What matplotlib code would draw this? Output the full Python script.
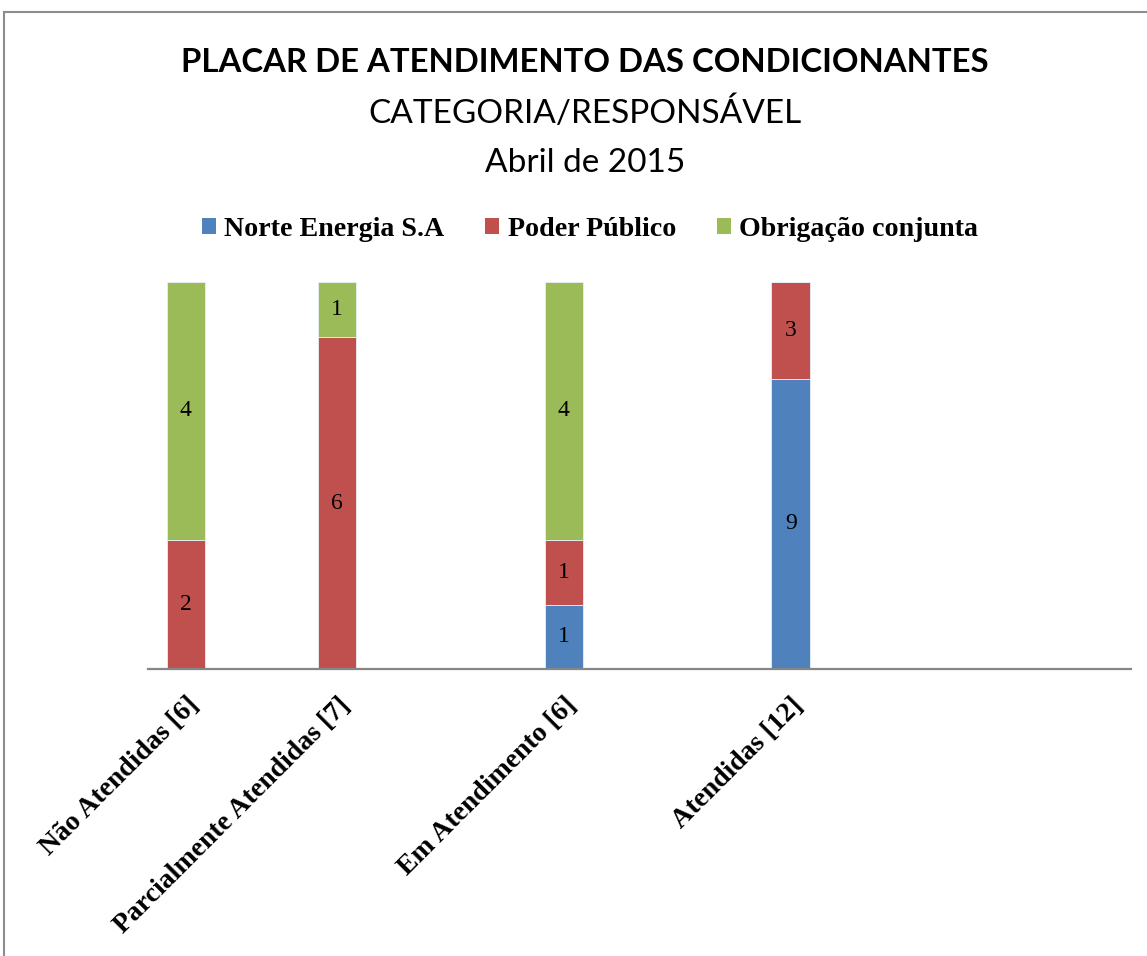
import numpy as np
import matplotlib
matplotlib.use('Agg')
import matplotlib.pyplot as plt
import matplotlib.patches as patches

# categories (blank slots are empty rows of the source sheet)
categories = ['Não Atendidas [6]', '', 'Parcialmente Atendidas [7]', '', '',
              'Em Atendimento [6]', '', '', 'Atendidas [12]', '', '', '', '']
norte = [0, 0, 0, 0, 0, 1, 0, 0, 9, 0, 0, 0, 0]
poder = [2, 0, 6, 0, 0, 1, 0, 0, 3, 0, 0, 0, 0]
conjunta = [4, 0, 1, 0, 0, 4, 0, 0, 0, 0, 0, 0, 0]
series_names = ['Norte Energia S.A', 'Poder Público', 'Obrigação conjunta']
colors = ['#4F81BD', '#C0504D', '#9BBB59']

title1 = 'PLACAR DE ATENDIMENTO DAS CONDICIONANTES'
title2 = 'CATEGORIA/RESPONSÁVEL'
title3 = 'Abril de 2015'

sans_b = ['Lato', 'DejaVu Sans']
serif = ['Liberation Serif', 'DejaVu Serif']

fig = plt.figure(figsize=(11.47, 9.56), dpi=100)
ax = fig.add_axes([148 / 1147, 1 - 669 / 956, (1131 - 148) / 1147, (669 - 282) / 956])

# outer chart frame (cut by the image edges)
fig.patches.append(patches.Rectangle((4 / 1147, -0.2), 1.2, 1.2 - 12 / 956,
                                     transform=fig.transFigure, fill=False,
                                     edgecolor='#8c8c8c', linewidth=1.5))

data = np.array([norte, poder, conjunta], dtype=float)
totals = data.sum(axis=0)
share = np.divide(data, totals, out=np.zeros_like(data), where=totals > 0) * 100
x = np.arange(len(categories))
bottom = np.zeros(len(categories))
for vals, pct, name, col in zip(data, share, series_names, colors):
    ax.bar(x, pct, 0.51, bottom=bottom, color=col, label=name,
           edgecolor='#e8eef6', linewidth=0.6)
    for xi, v, p, b in zip(x, vals, pct, bottom):
        if v > 0:
            ax.text(xi, b + p / 2, f'{int(v)}', ha='center', va='center',
                    fontsize=17, family=serif, color='black')
    bottom += pct

ax.set_xlim(-0.5, len(categories) - 0.5)
ax.set_ylim(0, 100)
ax.set_yticks([])
for s in ['top', 'right', 'left']:
    ax.spines[s].set_visible(False)
ax.spines['bottom'].set_color('#868686')
ax.spines['bottom'].set_linewidth(1.6)
ax.set_xticks(x)
ax.set_xticklabels(categories, rotation=45, ha='right', rotation_mode='anchor',
                   fontsize=20, family=serif, fontweight='bold')
ax.tick_params(axis='x', length=0, pad=17)

fig.text(0.51, 1 - 63 / 956, title1, ha='center', va='center', fontsize=23.7,
         fontweight='bold', family=sans_b)
fig.text(0.51, 1 - 113 / 956, title2, ha='center', va='center', fontsize=24,
         family=sans_b)
fig.text(0.51, 1 - 163 / 956, title3, ha='center', va='center', fontsize=24,
         family=sans_b)

leg = fig.legend(loc='center', bbox_to_anchor=(590 / 1147, 1 - 229 / 956), ncol=3,
                 frameon=False, handlelength=0.5, handleheight=0.5,
                 handletextpad=0.3, columnspacing=1.45,
                 prop={'family': serif, 'weight': 'bold', 'size': 20.2})
for h in leg.legend_handles:
    h.set_edgecolor('none')

fig.savefig('out.png', dpi=100)
